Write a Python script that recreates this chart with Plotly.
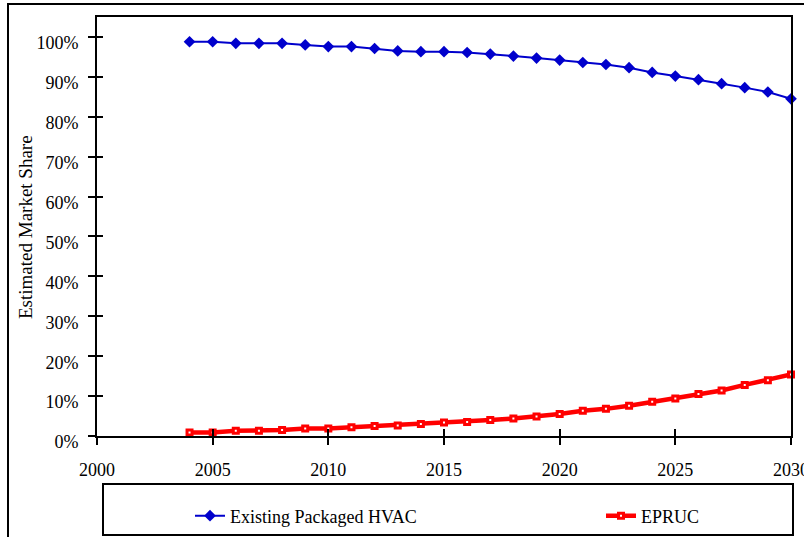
import plotly.graph_objects as go

years = list(range(2004, 2031))
existing_hvac = [98.8, 98.8, 98.4, 98.4, 98.4, 98.0, 97.6, 97.6, 97.1, 96.5, 96.3, 96.3, 96.1,
                 95.7, 95.2, 94.7, 94.2, 93.6, 93.1, 92.3, 91.1, 90.2, 89.3, 88.3, 87.3, 86.2, 84.5]
epruc = [0.9, 0.9, 1.3, 1.3, 1.5, 1.9, 1.9, 2.2, 2.5, 2.6, 3.0, 3.4, 3.5,
         4.0, 4.4, 4.9, 5.5, 6.3, 6.8, 7.6, 8.6, 9.4, 10.5, 11.4, 12.8, 14.0, 15.4]

x_ticks = [2000, 2005, 2010, 2015, 2020, 2025, 2030]
y_ticks = list(range(0, 101, 10))
y_labels = [f"{v}%" for v in y_ticks]

FONT = "Liberation Serif, Times New Roman, serif"
BLUE = "#0000CC"
RED = "#FF0000"

W, H = 804, 537
L, R, T, B = 97, 13, 17, 101
pw, ph = W - L - R, H - T - B

def px(x):
    return (x - L) / pw

def py(y):
    return (H - B - y) / ph

fig = go.Figure()
fig.add_trace(go.Scatter(
    x=years, y=existing_hvac, mode="lines+markers", name="Existing Packaged HVAC",
    line=dict(color=BLUE, width=2),
    marker=dict(symbol="diamond", size=9, color=BLUE),
    legend="legend", cliponaxis=False,
))
fig.add_trace(go.Scatter(
    x=years, y=epruc, mode="lines+markers", name="EPRUC",
    line=dict(color=RED, width=4.5),
    marker=dict(symbol="square", size=5, color="white", line=dict(color=RED, width=3)),
    legend="legend2", cliponaxis=False,
))

axis_common = dict(showgrid=False, zeroline=False, automargin=False)
fig.update_layout(
    width=W, height=H,
    margin=dict(l=L, r=R, t=T, b=B, pad=0, autoexpand=False),
    paper_bgcolor="white", plot_bgcolor="white",
    font=dict(family=FONT, size=18, color="black"),
    xaxis=dict(range=[2000, 2030], tickvals=x_ticks, ticktext=[str(v) for v in x_ticks],
               ticks="outside", ticklen=7, tickwidth=2, tickcolor="black",
               showline=True, linewidth=2, linecolor="black", mirror=True,
               ticklabelstandoff=9, ticklabeloverflow="allow", **axis_common),
    yaxis=dict(range=[0, 105], tickvals=y_ticks, ticktext=y_labels,
               ticks="outside", ticklen=7, tickwidth=2, tickcolor="black",
               showline=True, linewidth=2, linecolor="black", mirror=True,
               ticklabelstandoff=6, ticklabelshift=6, ticklabeloverflow="allow", **axis_common),
    xaxis2=dict(range=[2000, 2030], tickvals=x_ticks, overlaying="x", anchor="y",
                ticks="inside", ticklen=7, tickwidth=2, tickcolor="black",
                showticklabels=False, showline=False, **axis_common),
    yaxis2=dict(range=[0, 105], tickvals=y_ticks, overlaying="y", anchor="x",
                ticks="inside", ticklen=6, tickwidth=2, tickcolor="black",
                showticklabels=False, showline=False, **axis_common),
    legend=dict(x=px(190), y=py(516), xanchor="left", yanchor="middle",
                bgcolor="rgba(0,0,0,0)", borderwidth=0, font=dict(size=18)),
    legend2=dict(x=px(601), y=py(516), xanchor="left", yanchor="middle",
                 bgcolor="rgba(0,0,0,0)", borderwidth=0, font=dict(size=18)),
    showlegend=True,
)
# invisible trace to activate overlay axes
fig.add_trace(go.Scatter(x=[2000], y=[0], xaxis="x2", yaxis="y2", mode="markers",
                         marker=dict(opacity=0), showlegend=False, hoverinfo="skip"))

fig.add_annotation(text="Estimated Market Share", textangle=-90, xref="paper", yref="paper",
                   x=px(25), y=py(227), xanchor="center", yanchor="middle",
                   showarrow=False, font=dict(size=19))

# outer chart border
fig.add_shape(type="rect", xref="paper", yref="paper",
              x0=px(8), x1=px(806), y0=py(540), y1=py(4),
              line=dict(color="black", width=2), layer="below")
# legend box
fig.add_shape(type="rect", xref="paper", yref="paper",
              x0=px(103), x1=px(793), y0=py(535), y1=py(484),
              line=dict(color="black", width=2), layer="below")

fig.write_html("out.html")
